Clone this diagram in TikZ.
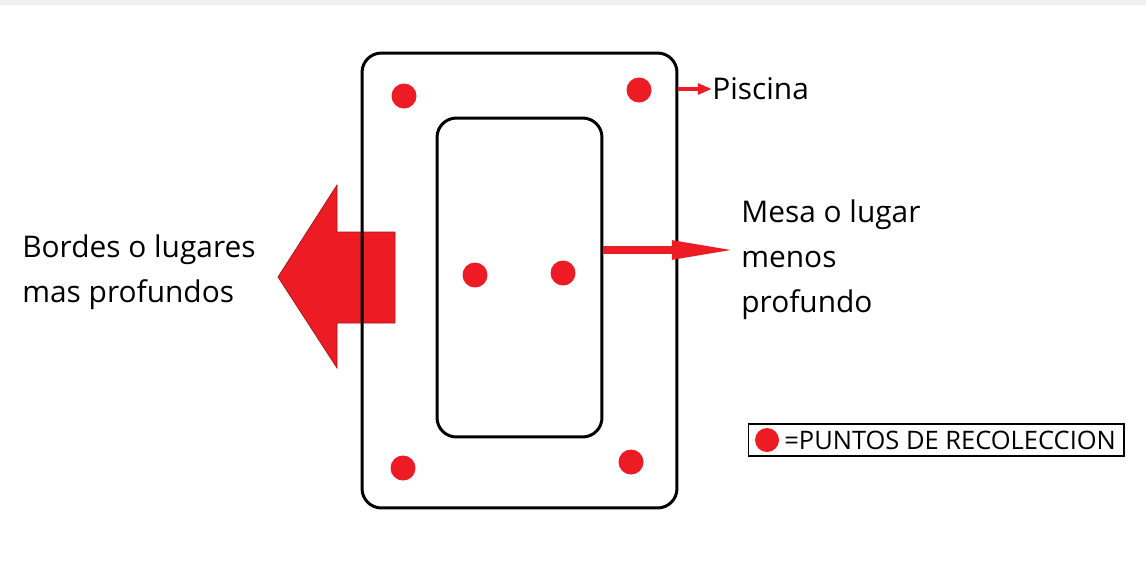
\documentclass[tikz,border=0pt]{standalone}
\usepackage{fontspec}
\setmainfont{Open Sans}
\usetikzlibrary{arrows.meta}
\definecolor{paintred}{HTML}{ED1C24}
\tikzset{box/.style={draw=black, line width=1.7pt, rounded corners=11pt, inner sep=0pt}}
\tikzset{spot/.style={circle, fill=paintred, inner sep=0pt, minimum size=0.5cm}}
\tikzset{label/.style={font=\fontsize{17}{25.5}\selectfont, align=left, inner sep=0pt, anchor=west}}
\tikzset{arrow/.style={-{Triangle[length=36pt,width=10pt]}, draw=paintred, line width=4pt}}

\begin{document}
\begin{tikzpicture}[x=0.02cm, y=-0.02cm]
  \useasboundingbox (0,0) rectangle (1146,569);
  \fill[gray!12] (0,0) rectangle (1146,5);

  % big arrow to the deep side
  \filldraw[fill=paintred, draw=paintred!70!black, line width=0.4pt]
    (395,232) -- (337,232) -- (337,185) -- (278,277) -- (337,368) -- (337,323) -- (395,323) -- cycle;

  \node[box, minimum width=6.3cm, minimum height=9.1cm] (pool) at (519.5,280.5) {};
  \node[box, minimum width=3.3cm, minimum height=6.38cm] (mesa) at (519.5,277.5) {};

  \node[spot] (s1) at (404,96) {};
  \node[spot] (s2) at (639,90) {};
  \node[spot] (s3) at (475,275) {};
  \node[spot] (s4) at (563,273) {};
  \node[spot] (s5) at (403,468) {};
  \node[spot] (s6) at (631,462) {};

  \node[label] (piscina) at (712,89) {Piscina};
  \node[label] (menos) at (741,260) {Mesa o lugar\\menos\\profundo};
  \node[label] (bordes) at (22,272) {Bordes o lugares\\mas profundos};

  \coordinate (tip) at (735,250);
  \draw[arrow] (mesa.east |- tip) -- (tip);
  \draw[-{Triangle[length=8pt,width=6pt]}, draw=paintred, line width=2pt] (pool.east |- piscina) -- (piscina.west);

  % legend
  \node[draw=black, line width=0.6pt, minimum width=7.52cm, minimum height=0.64cm] (legend) at (936,440) {};
  \node[spot, minimum size=0.48cm] (key) at (767,440) {};
  \node[anchor=west, inner sep=0pt, font=\fontsize{14.5}{18}\selectfont] (keytext) at (784,440) {=PUNTOS DE RECOLECCION};
\end{tikzpicture}
\end{document}
